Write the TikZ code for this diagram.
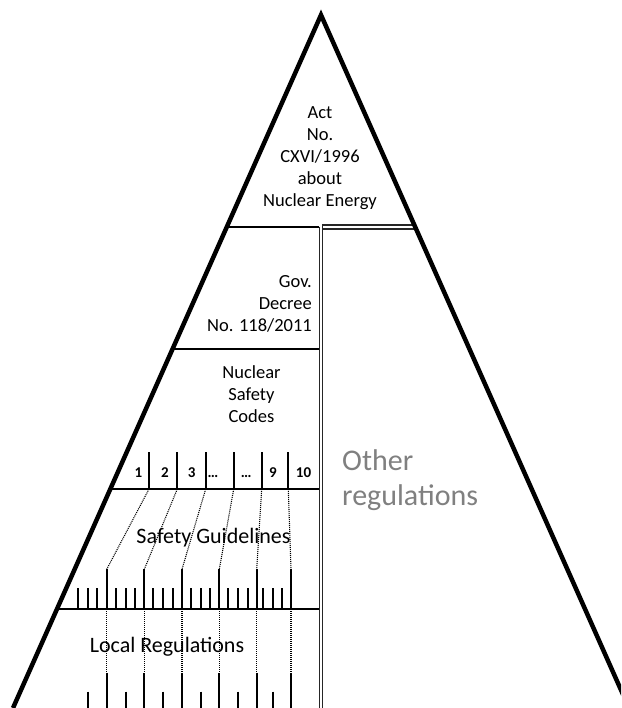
\documentclass[tikz,border=0pt]{standalone}
\usepackage{fontspec}
\setmainfont{Carlito}
\definecolor{othergray}{HTML}{808080}
\begin{document}
\begin{tikzpicture}[x=1pt,y=-1pt,
  frame/.style={line width=4.5pt,line join=miter,miter limit=20},
  rule/.style={line width=1.6pt},
  wall/.style={line width=1.1pt,black!85},
  tick/.style={line width=1.8pt},
  dots/.style={line width=1.1pt,dash pattern=on 1pt off 1pt},
  lbl/.style={font=\fontsize{18.5}{22}\selectfont,inner sep=0pt},
  big/.style={font=\fontsize{22}{26}\selectfont,inner sep=0pt,anchor=base},
  num/.style={font=\fontsize{15}{18}\selectfont\bfseries,inner sep=0pt,anchor=base},
  other/.style={font=\fontsize{30}{35}\selectfont,text=othergray,inner sep=0pt,anchor=base west},
]
\useasboundingbox (0,0) rectangle (621,708);
\clip (0,0) rectangle (621,708);
% triangle corners
\coordinate (apex) at (321,15);
\coordinate (bl) at (13,708);
\coordinate (br) at (629,708);
% left stack frame
\coordinate (l1) at (226.5,227);
\coordinate (l2) at (172.3,349);
\coordinate (l3) at (110.2,489);
\coordinate (l4) at (56.9,609);
\coordinate (w1) at (319.3,227);
\coordinate (w2) at (319.3,349);
\coordinate (w3) at (319.3,489);
\coordinate (w4) at (319.3,609);
\coordinate (wb) at (319.3,708);
\draw[rule] (l1) -- (w1);
\draw[rule] (l2) -- (w2);
\draw[rule] (l3) -- (w3);
\draw[rule] (l4) -- (w4);
\draw[wall] (w1) -- (wb);
% other regulations box
\coordinate (o1) at (322.6,225);
\coordinate (o2) at (322.6,229);
\coordinate (r1) at (414.6,225);
\coordinate (r2) at (416.4,229);
\coordinate (ob) at (322.6,708);
\draw[wall] (r1) -- (o1) -- (ob);
\draw[wall] (o2) -- (r2);
% code ticks and dotted links
\foreach \cx/\gx [count=\i] in {149/106.7,177.3/144.3,205.7/182,233.7/219.3,261.7/256.7,288.3/291}{
  \coordinate (ct\i) at (\cx,452);
  \coordinate (cb\i) at (\cx,489);
  \coordinate (gt\i) at (\gx,569.3);
  \coordinate (gb\i) at (\gx,609);
  \coordinate (rt\i) at (\gx,673.3);
  \coordinate (rb\i) at (\gx,708);
  \draw[tick] (ct\i) -- (cb\i);
  \draw[dots] (cb\i) -- (gt\i);
  \draw[tick] (gt\i) -- (gb\i);
  \draw[dots] (gb\i) -- (rt\i);
  \draw[tick] (rt\i) -- (rb\i);
}
% short ticks, safety guidelines
\foreach \sx [count=\i] in {78.3,88.3,97.3,116,125.7,135,153.3,163.3,172.7,190.7,200.7,210,228.3,238.3,247.7,263.3,273.3,281.7}{
  \coordinate (st\i) at (\sx,588.3);
  \coordinate (sb\i) at (\sx,609);
  \draw[tick] (st\i) -- (sb\i);
}
% short ticks, local regulations
\foreach \sx [count=\i] in {88.3,125.7,163.3,200.7,238.3,272.7}{
  \coordinate (lt\i) at (\sx,691.7);
  \coordinate (lb\i) at (\sx,708);
  \draw[tick] (lt\i) -- (lb\i);
}
% triangle
\draw[frame] (bl) -- (apex) -- (br);
% texts
\node[lbl,align=center] (act) at (320,158) {Act\\No.\\CXVI/1996\\about\\Nuclear Energy};
\node[lbl,align=right,anchor=east] (gov) at (312,304) {Gov.\\Decree\\No. 118/2011};
\node[lbl,align=center] (nsc) at (251.5,394) {Nuclear\\Safety\\Codes};
\node[num] (n1) at (138.3,477) {1};
\node[num] (n2) at (165,477) {2};
\node[num] (n3) at (191.7,477) {3};
\node[num] (n4) at (213,477) {…};
\node[num] (n5) at (246.3,477) {…};
\node[num] (n6) at (273,477) {9};
\node[num] (n7) at (303.5,477) {10};
\node[big] (sg) at (213.5,543) {Safety Guidelines};
\node[big] (lr) at (167,652.5) {Local Regulations};
\node[other] (oth1) at (342,470) {Other};
\node[other] (oth2) at (342,505) {regulations};
\end{tikzpicture}
\end{document}
